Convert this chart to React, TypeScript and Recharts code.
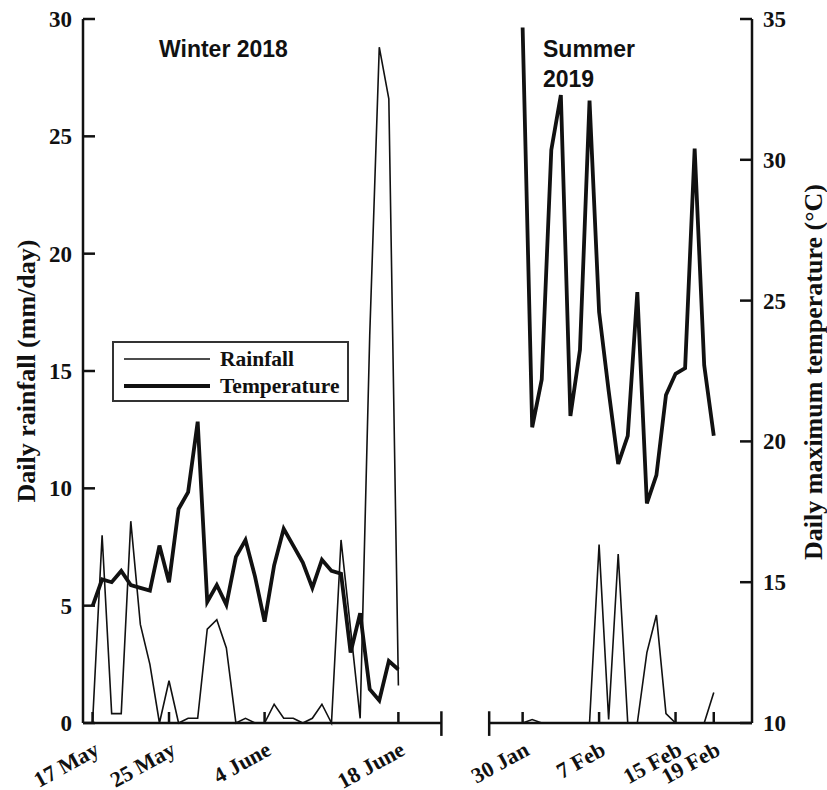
import React from 'react';
import { LineChart, Line, XAxis, YAxis, ReferenceLine, Legend, Customized } from 'recharts';

// daily rainfall (mm/day), 17 May – 18 June 2018
const WINTER_RAIN = [
  0, 8.0, 0.4, 0.4, 8.6, 4.2, 2.5, 0, 1.8, 0, 0.2, 0.2, 4.0, 4.4, 3.2, 0, 0.2,
  0, 0, 0.8, 0.2, 0.2, 0, 0.2, 0.8, 0, 7.8, 4.0, 0.2, 16.5, 28.8, 26.6, 1.6,
];
// daily max temperature (°C), same days
const WINTER_TEMP = [
  14.15, 15.1, 15.0, 15.4, 14.9, 14.8, 14.7, 16.3, 15.0, 17.6, 18.2, 20.7, 14.3,
  14.9, 14.2, 15.9, 16.5, 15.2, 13.6, 15.6, 16.9, 16.3, 15.7, 14.8, 15.8, 15.4,
  15.3, 12.5, 13.9, 11.2, 10.8, 12.2, 11.9,
];
// 30 Jan – 19 Feb 2019
const SUMMER_RAIN = [
  0, 0.15, 0, 0, 0, 0, 0, 0, 7.6, 0.15, 7.2, 0, 0, 3.0, 4.6, 0.4, 0, 0, 0, 0, 1.3,
];
const SUMMER_TEMP = [
  34.7, 20.5, 22.2, 30.35, 32.3, 20.9, 23.25, 32.1, 24.6, 21.8, 19.2, 20.2, 25.3,
  17.8, 18.8, 21.65, 22.4, 22.6, 30.4, 22.7, 20.2,
];

const TICK_DAYS = [0, 8, 18, 32, 45, 53, 61, 65];
const TICK_LABELS = ['17 May', '25 May', '4 June', '18 June', '30 Jan', '7 Feb', '15 Feb', '19 Feb'];
const RAIN_TICKS = [0, 5, 10, 15, 20, 25, 30];
const TEMP_TICKS = [10, 15, 20, 25, 30, 35];
const LEGEND_NAMES = ['Rainfall', 'Temperature'];

// summer period sits after the axis break
const SUMMER_START = 45;
const BREAK_LEFT = 36.5;
const BREAK_RIGHT = 41.5;

const winterRows = WINTER_RAIN.map((rain, i) => ({ day: i, rain, temp: WINTER_TEMP[i] }));
const summerRows = SUMMER_RAIN.map((rain, i) => ({ day: SUMMER_START + i, rain, temp: SUMMER_TEMP[i] }));

const INK = '#111';
const SERIF = '"Liberation Serif", "Times New Roman", serif';
const SANS = '"Liberation Sans", Arial, sans-serif';

function XTick({ x, y, payload }: any) {
  const label = TICK_LABELS[TICK_DAYS.indexOf(payload.value)];
  return (
    <g>
      <line x1={x} x2={x} y1={y} y2={y - 11} stroke={INK} strokeWidth={2.5} />
      <text
        transform={`translate(${x + 8},${y + 31}) rotate(-29)`}
        textAnchor="end"
        fontFamily={SERIF}
        fontWeight="bold"
        fontSize={22}
        fill={INK}
      >
        {label}
      </text>
    </g>
  );
}

function LeftTick({ x, y, payload }: any) {
  return (
    <g>
      <line x1={x} x2={x + 12} y1={y} y2={y} stroke={INK} strokeWidth={2.5} />
      <text x={x - 11} y={y} dy="0.35em" textAnchor="end" fontFamily={SERIF} fontWeight="bold" fontSize={23} fill={INK}>
        {payload.value}
      </text>
    </g>
  );
}

function RightTick({ x, y, payload }: any) {
  return (
    <g>
      <line x1={x} x2={x - 12} y1={y} y2={y} stroke={INK} strokeWidth={2.5} />
      <text x={x + 11} y={y} dy="0.35em" textAnchor="start" fontFamily={SERIF} fontWeight="bold" fontSize={23} fill={INK}>
        {payload.value}
      </text>
    </g>
  );
}

function Annotations() {
  return (
    <g fontWeight="bold" fill={INK}>
      <text x={159} y={57} fontFamily={SANS} fontSize={23}>Winter 2018</text>
      <text x={543} y={57} fontFamily={SANS} fontSize={23}>Summer</text>
      <text x={543} y={87} fontFamily={SANS} fontSize={23}>2019</text>
      <text transform="translate(26,371) rotate(-90)" dy="0.35em" textAnchor="middle" fontFamily={SERIF} fontSize={26}>
        Daily rainfall (mm/day)
      </text>
      <text transform="translate(813,372) rotate(-90)" dy="0.35em" textAnchor="middle" fontFamily={SERIF} fontSize={26}>
        Daily maximum temperature (°C)
      </text>
    </g>
  );
}

function LegendBox({ payload }: any) {
  const items = (payload || []).filter((e: any) => LEGEND_NAMES.includes(e.value));
  return (
    <div
      style={{
        position: 'relative',
        width: 237,
        height: 61,
        border: '2px solid #333',
        boxSizing: 'border-box',
        background: '#fff',
      }}
    >
      {items.map((entry: any, i: number) => {
        const thick = entry.value === 'Temperature';
        return (
          <div
            key={entry.value}
            style={{ position: 'absolute', left: 8, top: 4 + i * 27, height: 24, display: 'flex', alignItems: 'center', whiteSpace: 'nowrap' }}
          >
            <svg width={90} height={10} style={{ display: 'block' }}>
              <line x1={2} x2={88} y1={5} y2={5} stroke={INK} strokeWidth={thick ? 4 : 1.6} />
            </svg>
            <span style={{ marginLeft: 8, fontFamily: SERIF, fontWeight: 'bold', fontSize: 21.5, color: INK, lineHeight: '24px' }}>
              {entry.value}
            </span>
          </div>
        );
      })}
    </div>
  );
}

export default function App() {
  return (
    <div style={{ position: 'fixed', left: 0, top: 0, background: '#fff' }}>
      <LineChart width={827} height={790} margin={{ top: 19, left: 23, right: 15, bottom: 17 }}>
        <XAxis
          type="number"
          dataKey="day"
          domain={[-1, 69]}
          ticks={TICK_DAYS}
          interval={0}
          axisLine={false}
          tickLine={false}
          tickSize={0}
          tickMargin={0}
          height={50}
          tick={<XTick />}
          allowDataOverflow
        />
        <YAxis
          yAxisId="rain"
          domain={[0, 30]}
          ticks={RAIN_TICKS}
          interval={0}
          width={60}
          axisLine={{ stroke: INK, strokeWidth: 2.5 }}
          tickLine={false}
          tickSize={0}
          tickMargin={0}
          tick={<LeftTick />}
        />
        <YAxis
          yAxisId="temp"
          orientation="right"
          domain={[10, 35]}
          ticks={TEMP_TICKS}
          interval={0}
          width={60}
          axisLine={{ stroke: INK, strokeWidth: 2.5 }}
          tickLine={false}
          tickSize={0}
          tickMargin={0}
          tick={<RightTick />}
        />
        {/* broken x axis */}
        <ReferenceLine yAxisId="rain" segment={[{ x: -1, y: 0 }, { x: BREAK_LEFT, y: 0 }]} stroke={INK} strokeWidth={2.5} ifOverflow="visible" />
        <ReferenceLine yAxisId="rain" segment={[{ x: BREAK_RIGHT, y: 0 }, { x: 69, y: 0 }]} stroke={INK} strokeWidth={2.5} ifOverflow="visible" />
        <ReferenceLine yAxisId="rain" segment={[{ x: BREAK_LEFT, y: -0.55 }, { x: BREAK_LEFT, y: 0.5 }]} stroke={INK} strokeWidth={2.5} ifOverflow="visible" />
        <ReferenceLine yAxisId="rain" segment={[{ x: BREAK_RIGHT, y: -0.55 }, { x: BREAK_RIGHT, y: 0.5 }]} stroke={INK} strokeWidth={2.5} ifOverflow="visible" />

        <Line data={winterRows} yAxisId="rain" dataKey="rain" name="Rainfall" type="linear" stroke={INK} strokeWidth={1.6} dot={false} activeDot={false} isAnimationActive={false} />
        <Line data={winterRows} yAxisId="temp" dataKey="temp" name="Temperature" type="linear" stroke={INK} strokeWidth={3.8} dot={false} activeDot={false} isAnimationActive={false} />
        <Line data={summerRows} yAxisId="rain" dataKey="rain" name="Rainfall (summer)" legendType="none" type="linear" stroke={INK} strokeWidth={1.6} dot={false} activeDot={false} isAnimationActive={false} />
        <Line data={summerRows} yAxisId="temp" dataKey="temp" name="Temperature (summer)" legendType="none" type="linear" stroke={INK} strokeWidth={3.8} dot={false} activeDot={false} isAnimationActive={false} />

        <Legend
          layout="vertical"
          align="center"
          verticalAlign="middle"
          content={<LegendBox />}
          wrapperStyle={{ left: 112, top: 341, width: 237, height: 61 }}
        />
        <Customized component={Annotations} />
      </LineChart>
    </div>
  );
}
